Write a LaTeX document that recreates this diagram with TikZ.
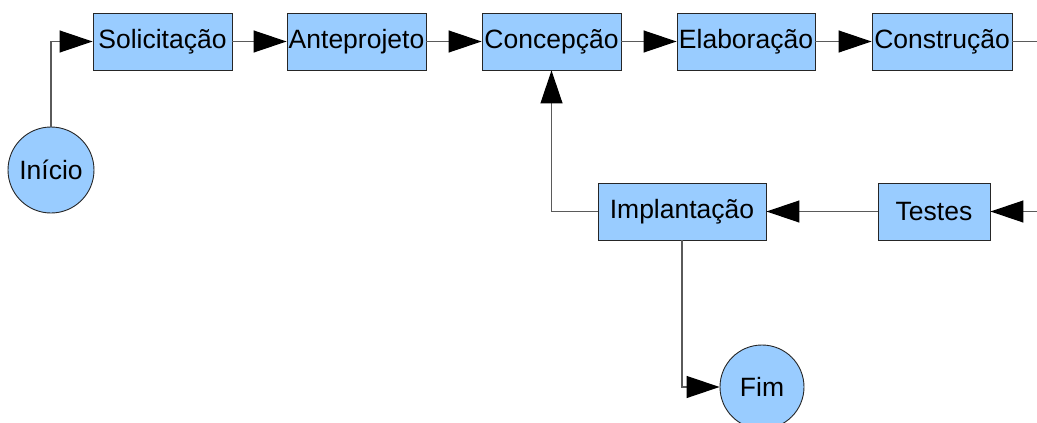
\documentclass[tikz,border=0pt]{standalone}
\usepackage{fontspec}
\setmainfont{Liberation Sans}
\usetikzlibrary{arrows.meta}
\definecolor{boxblue}{HTML}{99CCFF}
\definecolor{edgegray}{HTML}{5A5A5A}
\begin{document}
\begin{tikzpicture}[x=1pt,y=-1pt,
  stepbox/.style={draw=black!85, line width=0.9pt, fill=boxblue, minimum height=57pt, inner sep=0pt, font=\fontsize{26.5}{30}\selectfont},
  endcirc/.style={circle, draw=black!85, line width=0.9pt, fill=boxblue, inner sep=0pt, font=\fontsize{26.5}{30}\selectfont},
  conn/.style={draw=edgegray, line width=1.2pt, -{Triangle[length=33pt,width=22pt,black]}},
  plain/.style={draw=edgegray, line width=1.2pt}]
\useasboundingbox (0,0) rectangle (1037,423);
\clip (0,0) rectangle (1037,423);
\node[stepbox, minimum width=139pt] (sol) at (162.5,41.5) {Solicitação};
\node[stepbox, minimum width=139pt] (ant) at (356.5,41.5) {Anteprojeto};
\node[stepbox, minimum width=139pt] (conc) at (551.5,41.5) {Concepção};
\node[stepbox, minimum width=138pt] (ela) at (746,41.5) {Elaboração};
\node[stepbox, minimum width=140pt] (cons) at (942,41.5) {Construção};
\node[stepbox, minimum width=112pt] (tes) at (934,211.5) {Testes};
\node[stepbox, minimum width=168pt] (imp) at (682,211.5) {Implantação};
\node[endcirc, minimum size=86pt] (ini) at (51,170) {Início};
\node[endcirc, minimum size=84pt] (fim) at (762,387) {Fim};
\coordinate (r1) at (1037,41.5);
\coordinate (r2) at (1037,211.5);
\draw[conn] (ini.north) |- (sol.west);
\draw[conn] (sol) -- (ant);
\draw[conn] (ant) -- (conc);
\draw[conn] (conc) -- (ela);
\draw[conn] (ela) -- (cons);
\draw[plain] (cons.east) -- (r1);
\draw[conn] (r2) -- (tes.east);
\draw[conn] (tes) -- (imp);
\draw[conn] (imp.west) -| (conc.south);
\draw[conn] (imp.south) |- (fim.west);
\end{tikzpicture}
\end{document}
